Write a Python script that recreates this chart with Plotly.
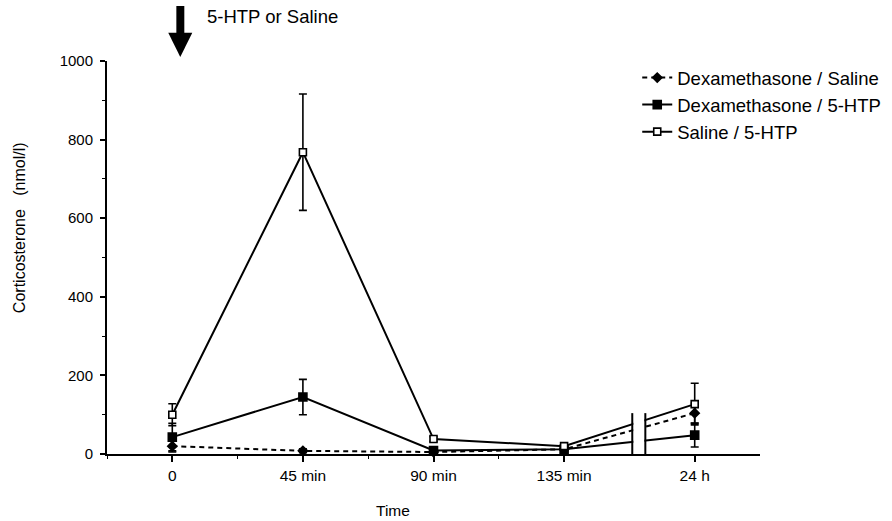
import plotly.graph_objects as go

time_labels = ["0", "45 min", "90 min", "135 min", "24 h"]
x_pos = list(range(len(time_labels)))

dex_saline = [20, 8, 5, 12, 104]
dex_saline_err = [15, 5, 4, 4, 25]
dex_5htp = [43, 145, 9, 12, 48]
dex_5htp_err = [35, 45, 5, 4, 30]
sal_5htp = [100, 768, 38, 20, 127]
sal_5htp_err = [28, 148, 6, 4, 53]

FONT = "Liberation Sans, Arial, Helvetica, sans-serif"

fig = go.Figure()

def add(name, y, err, dash, symbol, fill, size):
    fig.add_trace(go.Scatter(
        x=x_pos, y=y, name=name, mode="lines+markers",
        line=dict(color="black", width=2, dash=dash),
        marker=dict(symbol=symbol, size=size, color=fill, line=dict(color="black", width=1.6)),
        error_y=dict(type="data", array=err, visible=True, color="black", thickness=1.6, width=4),
        cliponaxis=False,
    ))

add("Dexamethasone / Saline", dex_saline, dex_saline_err, "5px,4px", "diamond", "black", 7)
add("Dexamethasone / 5-HTP", dex_5htp, dex_5htp_err, "solid", "square", "black", 8)
add("Saline / 5-HTP", sal_5htp, sal_5htp_err, "solid", "square", "white", 7)

shapes = []
# axis break mask and break marks
shapes.append(dict(type="rect", xref="x", yref="y", x0=3.53, x1=3.615, y0=-12, y1=200,
                   fillcolor="white", line=dict(width=0), layer="above"))
for bx in (3.522, 3.622):
    shapes.append(dict(type="line", xref="x", yref="y", x0=bx, x1=bx, y0=-20, y1=104,
                       line=dict(color="black", width=2), layer="above"))
# arrow: shaft + head
shapes.append(dict(type="rect", xref="x", yref="paper", x0=0.031, x1=0.092, y0=1.066, y1=1.14,
                   fillcolor="black", line=dict(width=0)))
shapes.append(dict(type="path", xref="x", yref="paper",
                   path="M -0.031 1.072 L 0.153 1.072 L 0.061 1.010 Z",
                   fillcolor="black", line=dict(width=0)))

annotations = [
    dict(text="5-HTP or Saline", x=0.150, y=1.112, xref="paper", yref="paper",
         xanchor="left", yanchor="middle", showarrow=False, font=dict(size=18.5, color="black", family=FONT)),
    dict(text="Corticosterone   (nmol/l)", x=-0.134, y=0.576, xref="paper", yref="paper",
         textangle=-90, xanchor="center", yanchor="middle", showarrow=False,
         font=dict(size=16, color="black", family=FONT)),
    dict(text="Time", x=0.438, y=-0.1425, xref="paper", yref="paper",
         xanchor="center", yanchor="middle", showarrow=False,
         font=dict(size=15.5, color="black", family=FONT)),
]

fig.update_layout(
    width=892, height=521,
    margin=dict(l=107, r=132, t=61, b=67, autoexpand=False),
    paper_bgcolor="white", plot_bgcolor="white",
    font=dict(family=FONT, color="black", size=15.5),
    showlegend=True,
    legend=dict(x=0.812, y=1.005, xanchor="left", yanchor="top", bgcolor="rgba(0,0,0,0)",
                font=dict(size=18.5, color="black", family=FONT), tracegroupgap=0),
    xaxis=dict(range=[-0.5, 4.5], tickvals=x_pos, ticktext=time_labels, showgrid=False, zeroline=False,
               showline=True, linecolor="black", linewidth=2, ticks="outside", ticklen=6, tickwidth=1.5,
               tickcolor="black", tickfont=dict(size=15.5),
               minor=dict(tickvals=[-0.5, 0.5, 1.5, 2.5], ticks="outside", ticklen=3, tickcolor="black", tickwidth=1)),
    yaxis=dict(range=[0, 1000], tickvals=[0, 200, 400, 600, 800, 1000], showgrid=False, zeroline=False,
               showline=True, linecolor="black", linewidth=2, ticks="outside", ticklen=5, tickwidth=1.5,
               tickcolor="black", tickfont=dict(size=15), ticklabelstandoff=4,
               minor=dict(dtick=100, ticks="outside", ticklen=3, tickcolor="black", tickwidth=1)),
    shapes=shapes, annotations=annotations,
)

fig.write_html("out.html")
